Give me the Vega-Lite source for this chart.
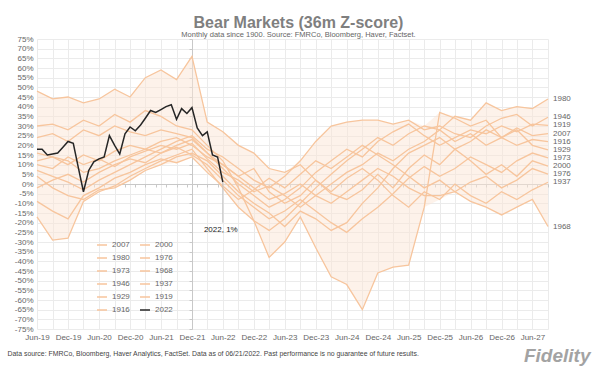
{
  "$schema": "https://vega.github.io/schema/vega-lite/v6.json",
  "width": 511,
  "height": 290,
  "autosize": {"type": "none"},
  "padding": {"left": 37, "top": 39, "right": 52, "bottom": 46},
  "background": "white",
  "config": {"view": {"stroke": null}, "font": "Liberation Sans"},
  "title": {
    "text": "Bear Markets (36m Z-score)",
    "subtitle": "Monthly data since 1900.  Source: FMRCo, Bloomberg, Haver, Factset.",
    "fontSize": 16, "fontWeight": "bold", "color": "#7f7f7f", "font": "Liberation Sans",
    "subtitleFontSize": 7.5, "subtitleColor": "#666666", "subtitleFont": "Liberation Sans",
    "anchor": "middle", "dx": 6, "offset": -3, "subtitlePadding": 0
  },
  "datasets": {
    "bears": [
      {"date":"2019-06-01","2000":48,"1929":30,"1968":12,"1980":-17,"1946":7,"1919":16,"2007":4,"1916":10,"1973":-2,"1976":-9,"1937":24},
      {"date":"2019-09-01","2000":44,"1929":31,"1968":14,"1980":-29,"1946":4,"1919":14,"2007":-2,"1916":8,"1973":2,"1976":-14,"1937":26},
      {"date":"2019-12-01","2000":45,"1929":28,"1968":10,"1980":-28,"1946":1,"1919":12,"2007":-6,"1916":14,"1973":5,"1976":-18,"1937":22},
      {"date":"2020-03-01","2000":42,"1929":33,"1968":15,"1980":-9,"1946":-3,"1919":6,"2007":-8,"1916":10,"1973":1,"1976":-6,"1937":28},
      {"date":"2020-06-01","2000":44,"1929":30,"1968":12,"1980":-4,"1946":2,"1919":8,"2007":-3,"1916":13,"1973":6,"1976":-2,"1937":25},
      {"date":"2020-09-01","2000":49,"1929":36,"1968":17,"1980":-1,"1946":6,"1919":12,"2007":-2,"1916":9,"1973":10,"1976":3,"1937":30},
      {"date":"2020-12-01","2000":45,"1929":32,"1968":20,"1980":4,"1946":10,"1919":15,"2007":2,"1916":14,"1973":13,"1976":6,"1937":27},
      {"date":"2021-03-01","2000":55,"1929":38,"1968":18,"1980":8,"1946":14,"1919":18,"2007":7,"1916":17,"1973":11,"1976":10,"1937":25},
      {"date":"2021-06-01","2000":59,"1929":35,"1968":22,"1980":12,"1946":18,"1919":16,"2007":10,"1916":20,"1973":16,"1976":13,"1937":28},
      {"date":"2021-09-01","2000":54,"1929":30,"1968":24,"1980":15,"1946":22,"1919":20,"2007":14,"1916":18,"1973":19,"1976":11,"1937":26},
      {"date":"2021-12-01","2000":66,"1929":28,"1968":20,"1980":18,"1946":25,"1919":23,"2007":16,"1916":21,"1973":15,"1976":14,"1937":24},
      {"date":"2022-03-01","2000":32,"1929":20,"1968":14,"1980":8,"1946":18,"1919":16,"2007":12,"1916":13,"1973":10,"1976":6,"1937":16},
      {"date":"2022-06-01","2000":27,"1929":12,"1968":10,"1980":-2,"1946":14,"1919":8,"2007":4,"1916":6,"1973":2,"1976":-1,"1937":10},
      {"date":"2022-09-01","2000":20,"1929":-2,"1968":4,"1980":-12,"1946":8,"1919":0,"2007":-4,"1916":2,"1973":-6,"1976":-8,"1937":4},
      {"date":"2022-12-01","2000":16,"1929":-19,"1968":-2,"1980":-19,"1946":2,"1919":-6,"2007":-10,"1916":-4,"1973":-12,"1976":-3,"1937":8},
      {"date":"2023-03-01","2000":8,"1929":-38,"1968":-8,"1980":-24,"1946":-2,"1919":-12,"2007":-15,"1916":-1,"1973":-18,"1976":3,"1937":-4},
      {"date":"2023-06-01","2000":6,"1929":-30,"1968":-5,"1980":-18,"1946":4,"1919":-8,"2007":-22,"1916":-6,"1973":-14,"1976":-2,"1937":-10},
      {"date":"2023-09-01","2000":10,"1929":-17,"1968":0,"1980":-10,"1946":12,"1919":-2,"2007":-14,"1916":-12,"1973":-8,"1976":5,"1937":-6},
      {"date":"2023-12-01","2000":2,"1929":-33,"1968":-6,"1980":-2,"1946":22,"1919":6,"2007":-18,"1916":-6,"1973":-14,"1976":12,"1937":2},
      {"date":"2024-03-01","2000":-5,"1929":-48,"1968":-10,"1980":5,"1946":30,"1919":12,"2007":-24,"1916":0,"1973":-20,"1976":8,"1937":-4},
      {"date":"2024-06-01","2000":-8,"1929":-52,"1968":-4,"1980":12,"1946":32,"1919":18,"2007":-20,"1916":6,"1973":-25,"1976":14,"1937":3},
      {"date":"2024-09-01","2000":-3,"1929":-65,"1968":2,"1980":18,"1946":33,"1919":14,"2007":-10,"1916":10,"1973":-18,"1976":20,"1937":8},
      {"date":"2024-12-01","2000":5,"1929":-46,"1968":8,"1980":24,"1946":33,"1919":22,"2007":-2,"1916":16,"1973":-12,"1976":15,"1937":2},
      {"date":"2025-03-01","2000":-2,"1929":-43,"1968":4,"1980":20,"1946":31,"1919":27,"2007":8,"1916":12,"1973":-5,"1976":10,"1937":-6},
      {"date":"2025-06-01","2000":8,"1929":-42,"1968":-2,"1980":26,"1946":33,"1919":31,"2007":16,"1916":18,"1973":3,"1976":4,"1937":-12},
      {"date":"2025-09-01","2000":15,"1929":-12,"1968":-6,"1980":30,"1946":28,"1919":25,"2007":20,"1916":22,"1973":9,"1976":-2,"1937":-4},
      {"date":"2025-12-01","2000":10,"1929":37,"1968":-6,"1980":28,"1946":30,"1919":20,"2007":24,"1916":28,"1973":4,"1976":2,"1937":-8},
      {"date":"2026-03-01","2000":18,"1929":34,"1968":-4,"1980":35,"1946":26,"1919":24,"2007":18,"1916":22,"1973":8,"1976":-4,"1937":0},
      {"date":"2026-06-01","2000":12,"1929":30,"1968":-9,"1980":33,"1946":24,"1919":28,"2007":22,"1916":26,"1973":14,"1976":1,"1937":-6},
      {"date":"2026-09-01","2000":5,"1929":33,"1968":-12,"1980":42,"1946":30,"1919":26,"2007":28,"1916":20,"1973":10,"1976":4,"1937":-10},
      {"date":"2026-12-01","2000":10,"1929":24,"1968":-16,"1980":38,"1946":34,"1919":30,"2007":24,"1916":24,"1973":6,"1976":-2,"1937":-4},
      {"date":"2027-03-01","2000":4,"1929":28,"1968":-12,"1980":40,"1946":36,"1919":27,"2007":29,"1916":20,"1973":12,"1976":2,"1937":-8},
      {"date":"2027-06-01","2000":12,"1929":20,"1968":-8,"1980":39,"1946":30,"1919":31,"2007":25,"1916":23,"1973":16,"1976":8,"1937":-3},
      {"date":"2027-09-01","2000":9.3,"1929":17.7,"1968":-22,"1980":44,"1946":34.5,"1919":30.3,"2007":26.1,"1916":21.9,"1973":13.5,"1976":5.1,"1937":0.9}
    ],
    "y2022": [
      {"date":"2019-06-01","value":18},{"date":"2019-07-01","value":18},{"date":"2019-08-01","value":15},
      {"date":"2019-09-01","value":15.5},{"date":"2019-10-01","value":16},{"date":"2019-11-01","value":19},
      {"date":"2019-12-01","value":22},{"date":"2020-01-01","value":21},{"date":"2020-02-01","value":8},
      {"date":"2020-03-01","value":-4},{"date":"2020-04-01","value":7},{"date":"2020-05-01","value":11.5},
      {"date":"2020-06-01","value":13},{"date":"2020-07-01","value":14},{"date":"2020-08-01","value":25},
      {"date":"2020-09-01","value":20},{"date":"2020-10-01","value":15.5},{"date":"2020-11-01","value":26},
      {"date":"2020-12-01","value":29.5},{"date":"2021-01-01","value":27.5},{"date":"2021-02-01","value":30.5},
      {"date":"2021-03-01","value":34},{"date":"2021-04-01","value":38},{"date":"2021-05-01","value":37},
      {"date":"2021-06-01","value":38.5},{"date":"2021-07-01","value":40},{"date":"2021-08-01","value":41},
      {"date":"2021-09-01","value":33.5},{"date":"2021-10-01","value":39},{"date":"2021-11-01","value":36.5},
      {"date":"2021-12-01","value":39.5},{"date":"2022-01-01","value":29},{"date":"2022-02-01","value":25},
      {"date":"2022-03-01","value":27},{"date":"2022-04-01","value":15},{"date":"2022-05-01","value":14},
      {"date":"2022-06-01","value":1}
    ],
    "note": [{"date":"2022-06-01","value":1,"label":"2022, 1%"}]
  },
  "resolve": {"axis": {"x": "independent", "y": "independent"}},
  "layer": [
    {
      "data": {"name": "bears"},
      "transform": [
        {"fold": ["2007","2000","1980","1976","1973","1968","1946","1937","1929","1919","1916"], "as": ["year","value"]},
        {"aggregate": [{"op":"min","field":"value","as":"lo"},{"op":"max","field":"value","as":"hi"}], "groupby": ["date"]}
      ],
      "mark": {"type": "area", "color": "#fbe5d6", "opacity": 0.5},
      "encoding": {
        "x": {"field": "date", "type": "temporal",
          "scale": {"type": "utc", "domain": [{"year":2019,"month":6,"date":1,"utc":true},{"year":2027,"month":9,"date":1,"utc":true}]},
          "axis": {
            "orient": "bottom",
            "values": [
              {"year":2019,"month":6,"date":1,"utc":true},{"year":2019,"month":9,"date":1,"utc":true},{"year":2019,"month":12,"date":1,"utc":true},
              {"year":2020,"month":3,"date":1,"utc":true},{"year":2020,"month":6,"date":1,"utc":true},{"year":2020,"month":9,"date":1,"utc":true},{"year":2020,"month":12,"date":1,"utc":true},
              {"year":2021,"month":3,"date":1,"utc":true},{"year":2021,"month":6,"date":1,"utc":true},{"year":2021,"month":9,"date":1,"utc":true},{"year":2021,"month":12,"date":1,"utc":true},
              {"year":2022,"month":3,"date":1,"utc":true},{"year":2022,"month":6,"date":1,"utc":true},{"year":2022,"month":9,"date":1,"utc":true},{"year":2022,"month":12,"date":1,"utc":true},
              {"year":2023,"month":3,"date":1,"utc":true},{"year":2023,"month":6,"date":1,"utc":true},{"year":2023,"month":9,"date":1,"utc":true},{"year":2023,"month":12,"date":1,"utc":true},
              {"year":2024,"month":3,"date":1,"utc":true},{"year":2024,"month":6,"date":1,"utc":true},{"year":2024,"month":9,"date":1,"utc":true},{"year":2024,"month":12,"date":1,"utc":true},
              {"year":2025,"month":3,"date":1,"utc":true},{"year":2025,"month":6,"date":1,"utc":true},{"year":2025,"month":9,"date":1,"utc":true},{"year":2025,"month":12,"date":1,"utc":true},
              {"year":2026,"month":3,"date":1,"utc":true},{"year":2026,"month":6,"date":1,"utc":true},{"year":2026,"month":9,"date":1,"utc":true},{"year":2026,"month":12,"date":1,"utc":true},
              {"year":2027,"month":3,"date":1,"utc":true},{"year":2027,"month":6,"date":1,"utc":true},{"year":2027,"month":9,"date":1,"utc":true}
            ],
            "labelExpr": "utcmonth(datum.value) % 6 == 5 ? utcFormat(datum.value, '%b-%y') : ''",
            "grid": true, "gridColor": "#ebebeb", "ticks": false, "domain": false,
            "labelFontSize": 8, "labelColor": "#666666", "labelPadding": 4,
            "labelOverlap": false, "labelFlush": false,
            "title": "Data source: FMRCo, Bloomberg, Haver Analytics, FactSet. Data as of 06/21/2022. Past performance is no guarantee of future results.",
            "titleX": -30, "titleY": 24, "titleAlign": "left", "titleBaseline": "middle", "titleAnchor": null,
            "titleFontSize": 6.9, "titleFontWeight": "normal", "titleColor": "#444444"
          }
        },
        "y": {"field": "lo", "type": "quantitative",
          "scale": {"domain": [-75, 75], "nice": false, "zero": false},
          "axis": {
            "orient": "left",
            "values": [-75,-70,-65,-60,-55,-50,-45,-40,-35,-30,-25,-20,-15,-10,-5,0,5,10,15,20,25,30,35,40,45,50,55,60,65,70,75],
            "labelExpr": "datum.value + '%'",
            "grid": true, "gridColor": "#ebebeb", "ticks": false, "domain": false,
            "labelOverlap": false,
            "labelFontSize": 8, "labelColor": "#666666", "labelPadding": 4, "title": null
          }
        },
        "y2": {"field": "hi"}
      }
    },
    {
      "data": {"name": "bears"},
      "transform": [
        {"fold": ["2007","2000","1980","1976","1973","1968","1946","1937","1929","1919","1916"], "as": ["year","value"]}
      ],
      "mark": {"type": "line", "strokeWidth": 1.3},
      "encoding": {
        "x": {"field": "date", "type": "temporal",
          "axis": {"orient": "bottom", "offset": -145, "grid": false, "labels": false, "ticks": true, "tickSize": 3,
            "tickColor": "#c8c8c8", "domain": true, "domainColor": "#c8c8c8",
            "tickCount": {"interval": "month", "step": 2},
            "title": "Fidelity", "titleX": 553, "titleY": 171, "titleAlign": "right", "titleBaseline": "middle", "titleAnchor": null,
            "titleFontSize": 19, "titleFontStyle": "italic", "titleFontWeight": "bold", "titleColor": "#a3a3a3"}},
        "y": {"field": "value", "type": "quantitative",
          "axis": {"orient": "left", "offset": -155, "grid": false, "labels": false, "ticks": true, "tickSize": 3,
            "tickColor": "#c8c8c8", "domain": true, "domainColor": "#c8c8c8",
            "values": [-75,-70,-65,-60,-55,-50,-45,-40,-35,-30,-25,-20,-15,-10,-5,0,5,10,15,20,25,30,35,40,45,50,55,60,65,70,75],
            "title": null}},
        "color": {"field": "year", "type": "nominal",
          "scale": {
            "domain": ["2007","1980","1973","1946","1929","1916","2000","1976","1968","1937","1919","2022"],
            "range": ["#f7c59d","#f7c59d","#f7c59d","#f7c59d","#f7c59d","#f7c59d","#f7c59d","#f7c59d","#f7c59d","#f7c59d","#f7c59d","#262626"]
          },
          "legend": {"orient": "none", "legendX": 59, "legendY": 200, "columns": 2, "title": null,
            "symbolType": "stroke", "symbolSize": 100, "symbolStrokeWidth": 1.5,
            "labelFontSize": 8, "labelColor": "#666666", "rowPadding": 3, "columnPadding": 7, "labelOffset": 4}
        }
      }
    },
    {
      "data": {"name": "y2022"},
      "mark": {"type": "line", "strokeWidth": 1.5},
      "encoding": {
        "x": {"field": "date", "type": "temporal", "axis": null},
        "y": {"field": "value", "type": "quantitative", "axis": null},
        "color": {"datum": "2022"}
      }
    },
    {
      "data": {"name": "bears"},
      "transform": [
        {"fold": ["2007","2000","1980","1976","1973","1968","1946","1937","1929","1919","1916"], "as": ["year","value"]},
        {"joinaggregate": [{"op": "max", "field": "date", "as": "maxd"}]},
        {"filter": "time(datum.date) == time(datum.maxd)"}
      ],
      "mark": {"type": "text", "align": "left", "dx": 5, "fontSize": 8, "color": "#666666"},
      "encoding": {
        "x": {"field": "date", "type": "temporal", "axis": null},
        "y": {"field": "value", "type": "quantitative", "axis": null},
        "text": {"field": "year"}
      }
    },
    {
      "data": {"name": "note"},
      "mark": {"type": "rule", "color": "#bfbfbf", "strokeWidth": 1},
      "encoding": {
        "x": {"field": "date", "type": "temporal", "axis": null},
        "y": {"field": "value", "type": "quantitative", "axis": null},
        "y2": {"datum": -20}
      }
    },
    {
      "data": {"name": "note"},
      "mark": {"type": "text", "fontSize": 8, "color": "#222222", "dx": -2},
      "encoding": {
        "x": {"field": "date", "type": "temporal", "axis": null},
        "y": {"datum": -24, "type": "quantitative", "axis": null},
        "text": {"field": "label"}
      }
    }
  ]
}
